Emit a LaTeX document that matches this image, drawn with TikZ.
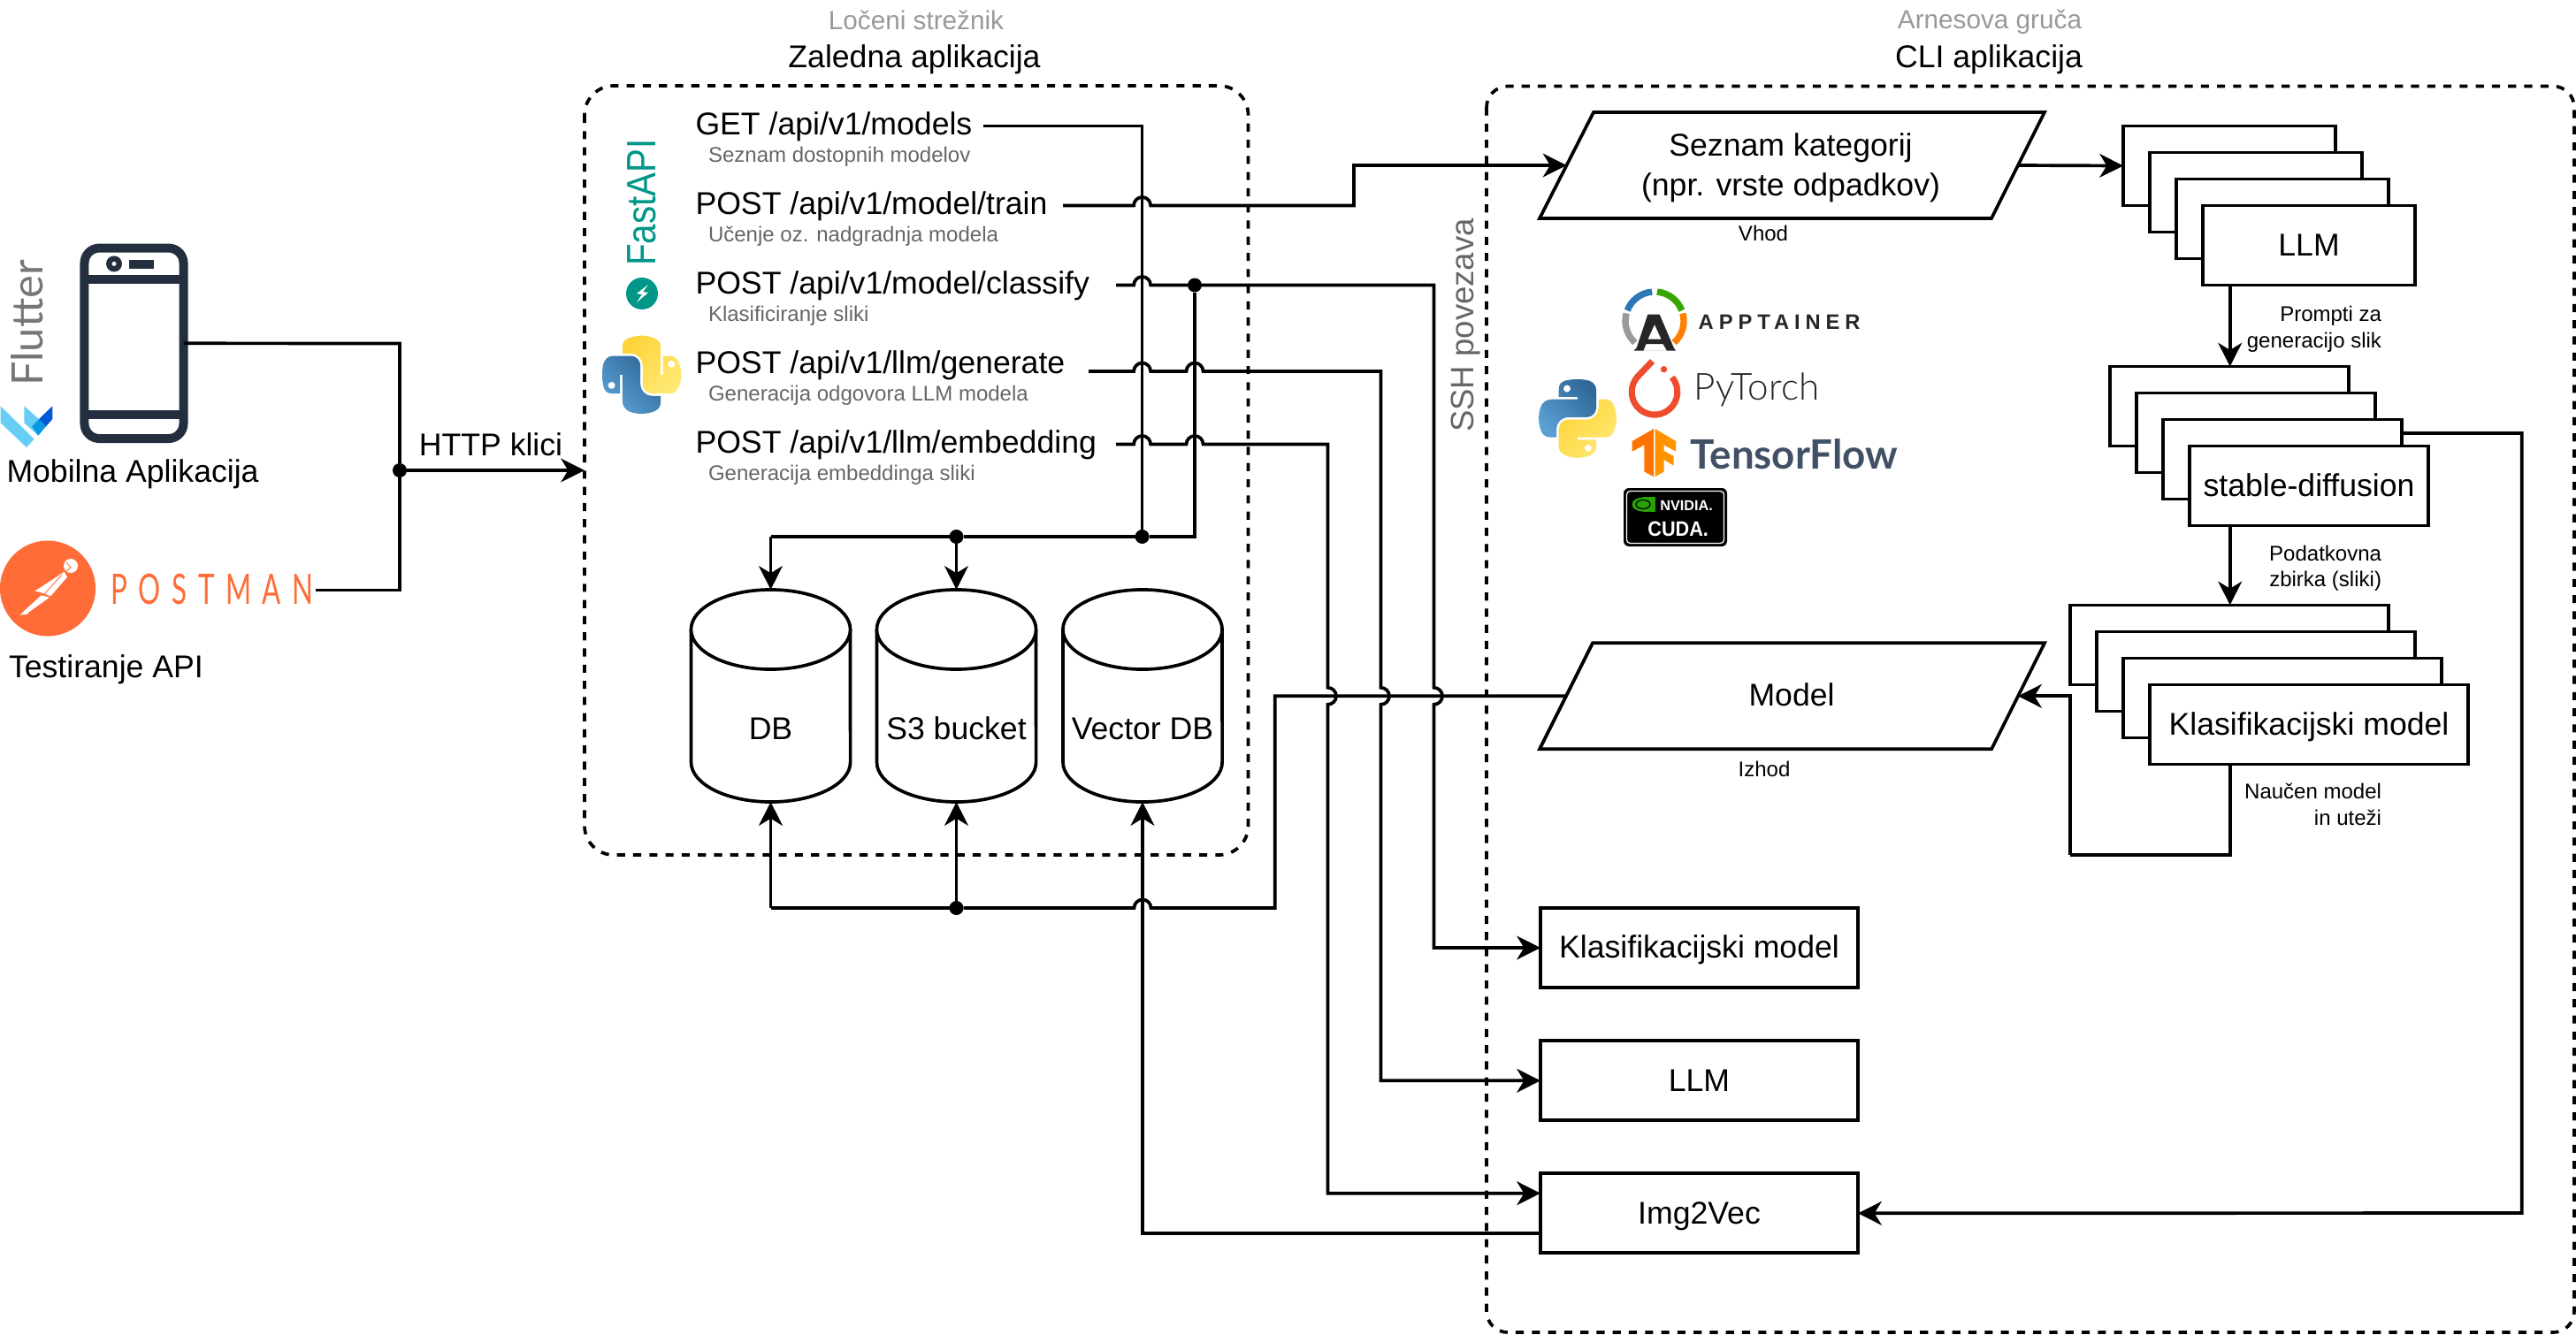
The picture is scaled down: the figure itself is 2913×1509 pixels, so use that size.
\documentclass[tikz,border=0pt]{standalone}
\usepackage{fontspec}
\usetikzlibrary{arrows.meta}
\setmainfont{Liberation Sans}
\newfontfamily\lightfont{Lato Light}
\newfontfamily\latofont{Lato}
\definecolor{phonec}{HTML}{232F3E}
\definecolor{pman}{HTML}{FF6C37}
\definecolor{teal}{HTML}{009688}
\definecolor{hdgray}{HTML}{999999}
\definecolor{subgray}{HTML}{666666}
\definecolor{tfblue}{HTML}{425066}
\definecolor{ptred}{HTML}{EE4C2C}
\definecolor{flgray}{HTML}{777777}
\tikzset{
  wire/.style={draw=black,line width=1.05pt,line join=miter},
  wirea/.style={wire,-{Stealth[length=7.6pt,width=7.6pt,inset=2.3pt]}},
  dash box/.style={draw=black,line width=1.05pt,dash pattern=on 2.6pt off 2.6pt},
  box/.style 2 args={draw=black,fill=white,line width=1.05pt,inner sep=0pt,outer sep=0pt,
    minimum width=#1*0.01cm,minimum height=#2*0.01cm,text height=8.4pt,text depth=1.6pt,font=\mainsz},
  lbl/.style={inner sep=0pt,outer sep=0pt,font=\mainsz},
  sub/.style={inner sep=0pt,outer sep=0pt,font=\subsz,text=subgray},
  capt/.style={inner sep=0pt,outer sep=0pt,font=\subsz},
  hd/.style={inner sep=0pt,outer sep=0pt,font=\fontsize{8.45pt}{10pt}\selectfont,text=hdgray},
  dot/.style={circle,fill=black,inner sep=0pt,outer sep=0pt,minimum size=0.16cm},
  storeframe/.style={inner sep=0pt,outer sep=0pt,minimum width=1.8cm,minimum height=2.4cm},
  shape line/.style={draw=black,line width=1.05pt,fill=white},
}
\newcommand{\mainsz}{\fontsize{10.13pt}{12pt}\selectfont}
\newcommand{\subsz}{\fontsize{6.83pt}{8pt}\selectfont}
% horizontal wire hops over a vertical one at x=#1, y=#2
\newcommand{\hj}[2]{-- (#1-9.5,#2) arc[start angle=180,end angle=0,radius=0.095cm]}
\newcommand{\hjl}[2]{-- (#1+9.5,#2) arc[start angle=0,end angle=180,radius=0.095cm]}
% vertical wire hops over a horizontal one
\newcommand{\vj}[2]{-- (#1,#2-9.5) arc[start angle=90,end angle=-90,radius=0.095cm]}
\newcommand{\cyl}[1]{%
  \draw[shape line] (#1-90,712) -- (#1-90,862) arc[start angle=180,end angle=360,x radius=0.9cm,y radius=0.45cm] -- (#1+90,712);
  \draw[shape line] (#1,712) ellipse [x radius=0.9cm,y radius=0.45cm];
}
\newcommand{\pylogo}{%
  \path[shade,bottom color=pya,top color=pyb,shading angle=-45]
   (54.919,0.001) .. controls (50.335,0.022) and (45.958,0.413) .. (42.106,1.094) .. controls (30.760,3.099) and (28.700,7.295) .. (28.700,15.032) -- (28.700,25.250) -- (55.513,25.250) -- (55.513,28.656) -- (18.638,28.656) .. controls (10.846,28.656) and (4.023,33.340) .. (1.888,42.250) .. controls (-0.574,52.463) and (-0.683,58.836) .. (1.888,69.500) .. controls (3.794,77.438) and (8.346,83.094) .. (16.138,83.094) -- (25.357,83.094) -- (25.357,70.844) .. controls (25.357,61.994) and (33.014,54.188) .. (42.106,54.188) -- (68.888,54.188) .. controls (76.343,54.188) and (82.294,48.049) .. (82.294,40.563) -- (82.294,15.032) .. controls (82.294,7.766) and (76.164,2.307) .. (68.888,1.094) .. controls (64.282,0.327) and (59.503,-0.020) .. (54.919,0.001) -- cycle;
  \path[shade,bottom color=pyc,top color=pyd,shading angle=45]
   (85.638,28.656) -- (85.638,40.562) .. controls (85.638,49.793) and (77.812,57.562) .. (68.888,57.562) -- (42.106,57.562) .. controls (34.770,57.562) and (28.700,63.841) .. (28.700,71.188) -- (28.700,96.719) .. controls (28.700,103.985) and (35.018,108.259) .. (42.106,110.344) .. controls (50.594,112.840) and (58.733,113.291) .. (68.888,110.344) .. controls (75.638,108.389) and (82.294,104.456) .. (82.294,96.719) -- (82.294,86.500) -- (55.513,86.500) -- (55.513,83.094) -- (95.700,83.094) .. controls (103.493,83.094) and (106.397,77.659) .. (109.107,69.500) .. controls (111.907,61.100) and (111.788,53.022) .. (109.107,42.250) .. controls (107.181,34.494) and (103.502,28.656) .. (95.700,28.656) -- cycle;
  \fill[white] (40.419,13.33) circle [radius=5];
  \fill[white] (70.575,98.39) circle [radius=5];
}
\definecolor{pya}{HTML}{5A9FD4}
\definecolor{pyb}{HTML}{306998}
\definecolor{pyc}{HTML}{FFE873}
\definecolor{pyd}{HTML}{FFD43B}
\begin{document}
\begin{tikzpicture}[x=0.01cm,y=-0.01cm]
\useasboundingbox (0,0) rectangle (2913,1509);
\fill[white] (0,0) rectangle (2913,1509);

% containers
\draw[dash box,rounded corners=0.33cm] (661,97) rectangle (1411.5,967);
\draw[dash box,rounded corners=0.24cm] (1681,97.5) rectangle (2911,1507);
\node[hd,anchor=base] (t1) at (1036,33) {Ločeni strežnik};
\node[lbl,anchor=base] (t2) at (1034,77) {Zaledna aplikacija};
\node[hd,anchor=base] (t3) at (2250,32.5) {Arnesova gruča};
\node[lbl,anchor=base] (t4) at (2249,77) {CLI aplikacija};
\node[sub,font=\fontsize{10.4pt}{12pt}\selectfont,rotate=90,anchor=base] (ssh) at (1666.6,368) {SSH povezava};

% endpoints
\node[lbl,anchor=base west] (ep1) at (786.5,152.5) {GET /api/v1/models};
\node[sub,anchor=base west] (sb1) at (801,183.5) {Seznam dostopnih modelov};
\node[lbl,anchor=base west] (ep2) at (786.5,242.5) {POST /api/v1/model/train};
\node[sub,anchor=base west] (sb2) at (801,273.5) {Učenje oz. nadgradnja modela};
\node[lbl,anchor=base west] (ep3) at (786.5,332.5) {POST /api/v1/model/classify};
\node[sub,anchor=base west] (sb3) at (801,363.5) {Klasificiranje sliki};
\node[lbl,anchor=base west] (ep4) at (786.5,422.5) {POST /api/v1/llm/generate};
\node[sub,anchor=base west] (sb4) at (801,453.5) {Generacija odgovora LLM modela};
\node[lbl,anchor=base west] (ep5) at (786.5,512.5) {POST /api/v1/llm/embedding};
\node[sub,anchor=base west] (sb5) at (801,543.5) {Generacija embeddinga sliki};

% frames of the stores
\node[storeframe] (db) at (871.5,787) {};
\node[storeframe] (s3) at (1081.5,787) {};
\node[storeframe] (vdb) at (1292,787) {};

% named junctions and free ends
\coordinate (o1) at (1112,142.5);
\coordinate (o2) at (1202,232.5);
\coordinate (o3) at (1262,322.5);
\coordinate (o4) at (1231,420);
\coordinate (o5) at (1262,502.5);
\node[dot] (jc) at (1351,322.5) {};
\node[dot] (ja) at (1291.6,607) {};
\node[dot] (jb) at (1081.5,607) {};
\node[dot] (jd) at (1081.5,1027) {};
\node[dot] (jh) at (452,532) {};

% bottom boxes
\node[box={359}{90},anchor=north west] (bk) at (1742,1027) {Klasifikacijski model};
\node[box={359}{90},anchor=north west] (bl) at (1742,1177.3) {LLM};
\node[box={359}{90},anchor=north west] (bi) at (1742,1327.3) {Img2Vec};

% stacks
\node[box={240}{90},anchor=north west] (l1) at (2401,142.5) {};
\node[box={240}{90},anchor=north west] (l2) at (2431,172.5) {};
\node[box={240}{90},anchor=north west] (l3) at (2461,202.5) {};
\node[box={240}{90},anchor=north west] (l4) at (2491,232.5) {LLM};
\node[box={270}{90},anchor=north west] (s1) at (2386,414.6) {};
\node[box={270}{90},anchor=north west] (s2) at (2416,444.6) {};
\node[box={270}{90},anchor=north west] (s3b) at (2446,474.6) {};
\node[box={270}{90},anchor=north west] (s4) at (2476,504.6) {stable-diffusion};
\node[box={360}{90},anchor=north west] (k1) at (2341,684.4) {};
\node[box={360}{90},anchor=north west] (k2) at (2371,714.4) {};
\node[box={360}{90},anchor=north west] (k3) at (2401,744.4) {};
\node[box={360}{90},anchor=north west] (k4) at (2431,774.4) {Klasifikacijski model};

% parallelograms
\draw[shape line] (1802,127) coordinate (pa) -- (2312,127) -- (2252,247) -- (1741,247) -- cycle;
\draw[shape line] (1801,727.3) coordinate (pb) -- (2312,727.3) -- (2252,847.3) -- (1741,847.3) -- cycle;
\node[lbl,anchor=base,align=center] (n1) at (2025,176) {Seznam kategorij};
\node[lbl,anchor=base,align=center] (n1b) at (2025,221.7) {(npr. vrste odpadkov)};
\node[lbl,anchor=base] (n2) at (2026,798.5) {Model};
\node[capt,anchor=base] (vh) at (1994,272.7) {Vhod};
\node[capt,anchor=base] (iz) at (1995,878) {Izhod};
\coordinate (p1l) at (1771.5,187);
\coordinate (p1r) at (2281.5,187);
\coordinate (p2l) at (1771,787.3);
\coordinate (p2r) at (2282,787.3);

% wires
\draw[wire] (o1) -- (1291.6,142.5) -- (ja);
\draw[wirea] (o2) \hj{1291.6}{232.5} -- (1531,232.5) -- (1531,187) -- (p1l);
\draw[wire] (o3) \hj{1291.6}{322.5} -- (jc);
\draw[wirea] (jc) -- (1621.5,322.5) \vj{1621.5}{787.3} -- (1621.5,1072) -- (bk.west);
\draw[wirea] (o4) \hj{1291.6}{420} \hj{1351}{420} -- (1561.5,420) \vj{1561.5}{787.3} -- (1561.5,1222.3) -- (bl.west);
\draw[wirea] (o5) \hj{1291.6}{502.5} \hj{1351}{502.5} -- (1501.5,502.5) \vj{1501.5}{787.3} -- (1501.5,1349.7) -- (1742,1349.7);
\draw[wire] (jc) -- (1351,607) -- (ja);
\draw[wire] (ja) -- (jb);
\draw[wire] (jb) -- (871.5,607);
\draw[wirea] (871.5,607) -- (db.north);
\draw[wirea] (jb) -- (s3.north);
\draw[wire] (p2l) -- (1441.7,787.3) -- (1441.7,1027) \hjl{1292}{1027} -- (jd);
\draw[wire] (jd) -- (871.5,1027);
\draw[wirea] (871.5,1027) -- (db.south);
\draw[wirea] (jd) -- (s3.south);
\draw[wirea] (1742,1395) -- (1292,1395) -- (vdb.south);
\draw[wirea] (p1r) -- (l1.west);
\draw[wirea] (2521.7,322.5) -- (2521.7,414.6);
\draw[wirea] (2521.7,594.6) -- (2521.7,684.4);
\draw[wire] (2521.7,864.4) -- (2521.7,967) -- (2341,967);
\draw[wirea] (2341,967) -- (2341,787.3) -- (p2r);
\draw[wirea] (2716,490) -- (2851.7,490) -- (2851.7,1372) -- (bi.east);

% stores drawn above wires
\cyl{871.5}
\cyl{1081.5}
\cyl{1292}
\node[lbl,anchor=base] (dbt) at (871.5,836.7) {DB};
\node[lbl,anchor=base] (s3t) at (1081.5,836.7) {S3 bucket};
\node[lbl,anchor=base] (vdt) at (1292,836.7) {Vector DB};

% wire labels
\node[capt,anchor=base east] (w1) at (2693,363) {Prompti za};
\node[capt,anchor=base east] (w2) at (2693,393) {generacijo slik};
\node[capt,anchor=base east] (w3) at (2693,634) {Podatkovna};
\node[capt,anchor=base east] (w4) at (2693,663) {zbirka (sliki)};
\node[capt,anchor=base east] (w5) at (2693,903.7) {Naučen model};
\node[capt,anchor=base east] (w6) at (2693,933.5) {in uteži};

% left: clients
\coordinate (pmo) at (357,667.4);
\node[draw=phonec,line width=2.845pt,rounded corners=0.17cm,inner sep=0pt,outer sep=0pt,minimum width=1.12cm,minimum height=2.154cm] (phone) at (151.5,388.3) {};
\fill[phonec] (95,311.4) rectangle (208,321);
\fill[phonec] (95,464) rectangle (208,474);
\fill[phonec] (129,298.4) circle [radius=0.09cm];
\fill[white] (129,298.4) circle [radius=0.025cm];
\fill[phonec] (146.4,293.5) rectangle (174,303.7);
\draw[wire] (phone.east) -- (452,388.5) -- (jh);
\draw[wire] (pmo) -- (452,667.4) -- (jh);
\draw[wirea] (jh) -- (661,532);
\node[lbl,anchor=base] (http) at (555,515) {HTTP klici};
\node[lbl,anchor=base west] (mob) at (7.5,545) {Mobilna Aplikacija};
\node[lbl,anchor=base west] (tst) at (10,766) {Testiranje API};
\node[anchor=base,inner sep=0pt,text=flgray,rotate=90,font={\fontsize{13.9pt}{14pt}\latofont}] (flt) at (48,365.5) {Flutter};

% flutter logo
\fill[cyan!60!white] (0.7,459.3) -- (38.7,496.7) -- (30,506) -- (0.7,478.3) -- cycle;
\fill[cyan!60!white] (27.3,459.3) -- (44,474) -- (36,482.3) -- (43.3,492.7) -- (27.3,478.3) -- cycle;
\fill[cyan!85!blue] (36,482.3) -- (44,474) -- (52,482.3) -- (43.3,492.7) -- cycle;
\fill[blue!60!cyan!85!black] (44,474) -- (59.3,459.3) -- (59.3,474) -- (52,482.3) -- cycle;

% postman logo
\fill[pman] (54,665.5) circle [radius=0.54cm];
\fill[white] (80,640) circle [radius=0.08cm];
\fill[white] (72.7,646.7) -- (76,652.7) -- (57.3,674.3) -- (46.7,670.3) -- (39.3,668.3) -- (45,665) -- cycle;
\fill[white] (46.7,673.3) -- (56,675.7) -- (32.7,692.3) -- (30,695) -- (22.7,695.7) -- (27.3,691) -- cycle;
\draw[pman,line width=0.25pt] (75,636) -- (80,642) -- (74,647);
\draw[pman,line width=0.25pt] (70,650) -- (50,672);
\node[anchor=base west,inner sep=0pt,xscale=.66,text=pman,font={\fontsize{13.5pt}{14pt}\latofont\addfontfeature{LetterSpace=40}}] (pmt) at (125,683) {POSTMAN};

% backend logos
\node[anchor=base,inner sep=0pt,text=teal,rotate=90,xscale=.87,font={\fontsize{13.2pt}{14pt}\selectfont}] (fapi) at (741.6,229) {FastAPI};
\fill[teal] (726,332) circle [radius=0.18cm];
\fill[white] (733,322) -- (720,332) -- (726,333) -- (720,342) -- (733,331) -- (727,330) -- cycle;
\begin{scope}[shift={(681,468)},x={(0cm,0.00795cm)},y={(0.00795cm,0cm)}]
\pylogo
\end{scope}

% cli logos
\begin{scope}[shift={(1740,429)},x=0.0079cm,y=-0.0079cm]
\pylogo
\end{scope}
\foreach \a/\b/\c in {159/95/cyan!60!blue!85!black,85/21/green!50!black!70!lime,15/-48/orange,228/165/gray!80}{
  \draw[\c,line width=2.1pt] (1871,363) ++(\a:0.33cm) arc[start angle=\a,end angle=\b,radius=0.33cm];
}
\fill[black!85,even odd rule] (1863.3,355.7) -- (1876.7,355.7) -- (1892.7,393.3) -- (1895,396.7) -- (1847.3,396.7) -- (1850.7,393.3) -- cycle (1871,367) -- (1878.5,383.5) -- (1863.5,383.5) -- cycle (1861.5,389) -- (1880.5,389) -- (1885,396.7) -- (1858.3,396.7) -- cycle;
\node[anchor=base west,inner sep=0pt,text=black!85,font={\fontsize{6.75pt}{8pt}\bfseries\addfontfeature{LetterSpace=25}}] (app) at (1920,372) {APPTAINER};

\draw[ptred,line width=2pt] (1871,443.3) ++(40:0.258cm) arc[start angle=40,end angle=-222,radius=0.258cm] -- (1868.5,408.5);
\fill[ptred] (1881.5,417.7) circle [radius=0.037cm];
\node[anchor=base west,inner sep=0pt,text=black!85,font={\fontsize{12pt}{14pt}\lightfont}] (pyt) at (1915,452.7) {PyTorch};

\fill[orange!90!red] (1870,485) -- (1845.7,499) -- (1845.7,510.7) -- (1859.3,503.3) -- (1859.3,533.3) -- (1870,539.3) -- cycle;
\fill[orange!85!yellow] (1871.7,485) -- (1895,499) -- (1895,510.7) -- (1881.7,503.3) -- (1881.7,510) -- (1892.7,516) -- (1892.7,526.7) -- (1881.7,520) -- (1881.7,533.3) -- (1871.7,539.3) -- cycle;
\node[anchor=base west,inner sep=0pt,text=tfblue,font={\fontsize{13pt}{14pt}\latofont\bfseries}] (tfl) at (1911,530) {TensorFlow};

\fill[black,rounded corners=0.06cm] (1836,552) rectangle (1953,618);
\draw[white,line width=0.35pt,rounded corners=0.04cm] (1839.5,555.5) rectangle (1949.5,614.5);
\fill[green!55!black!80!lime] (1858,562) rectangle (1872.3,579.3);
\fill[green!55!black!80!lime] (1858,570.5) ellipse [x radius=0.125cm,y radius=0.08cm];
\draw[black,line width=0.35pt] (1858,570.5) ellipse [x radius=0.08cm,y radius=0.05cm];
\node[anchor=base west,inner sep=0pt,text=white,font={\fontsize{4.6pt}{6pt}\bfseries}] (nv) at (1876.7,577) {NVIDIA.};
\node[anchor=base west,inner sep=0pt,xscale=.92,text=white,font={\fontsize{6.7pt}{8pt}\bfseries}] (cu) at (1862.7,606.7) {CUDA.};
\end{tikzpicture}
\end{document}
